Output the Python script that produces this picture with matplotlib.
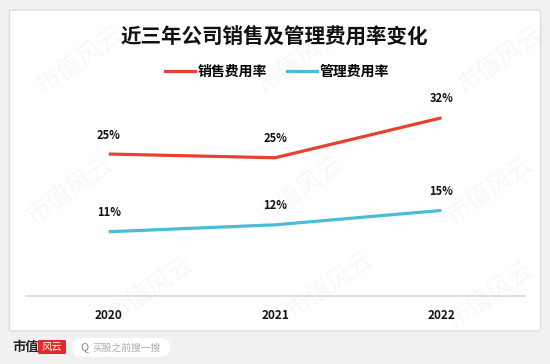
import numpy as np
import matplotlib.pyplot as plt
from matplotlib.patches import FancyBboxPatch
from matplotlib.lines import Line2D

plt.rcParams['font.family'] = ['Noto Sans CJK SC', 'DejaVu Sans']

###---data---###
years = ["2020", "2021", "2022"]
sales_rate = [25.6, 24.9, 32.4]
admin_rate = [11.0, 12.3, 15.0]
sales_labels = ["25%", "25%", "32%"]
admin_labels = ["11%", "12%", "15%"]

red = "#e8412f"
blue = "#4cbbd8"

W, H = 550, 364
fig = plt.figure(figsize=(5.5, 3.64), dpi=100)
fig.patch.set_facecolor("#f1f1f1")

# white panel
panel = FancyBboxPatch((9.5 / W, 1 - 331 / H), 531 / W, 321 / H,
                       boxstyle="round,pad=0,rounding_size=0.004",
                       transform=fig.transFigure, facecolor="white",
                       edgecolor="#dcdcdc", linewidth=1.0, zorder=-2)
fig.patches.append(panel)

# watermarks
for (wx, wy) in [(80, 60), (300, 60), (500, 60), (70, 190), (300, 190), (490, 190),
                 (150, 290), (330, 285), (490, 295)]:
    fig.text(wx / W, 1 - wy / H, "市值风云", fontsize=18, color="#000000", alpha=0.03,
             rotation=35, ha="center", va="center", zorder=-1)

# axes
ax = fig.add_axes([25.6 / W, 1 - 295.6 / H, 499 / W, 191.6 / H])
ax.set_facecolor("none")
x = np.arange(len(years))
ax.plot(x, sales_rate, color=red, lw=2.3, solid_capstyle="butt", zorder=3)
ax.plot(x, admin_rate, color=blue, lw=2.3, solid_capstyle="butt", zorder=3)
for xi, v, t in zip(x, sales_rate, sales_labels):
    ax.annotate(t, (xi, v), xytext=(0, 9), textcoords="offset points",
                ha="center", va="bottom", fontsize=8, fontweight="bold", color="#111111")
for xi, v, t in zip(x, admin_rate, admin_labels):
    ax.annotate(t, (xi, v), xytext=(0, 9), textcoords="offset points",
                ha="center", va="bottom", fontsize=8, fontweight="bold", color="#111111")

ax.set_xlim(-0.5, 2.5)
ax.set_ylim(-1, 35)
ax.set_xticks(x)
ax.set_xticklabels(years, fontsize=8.5, fontweight="bold", color="#111111")
ax.tick_params(axis="x", length=0, pad=10)
ax.set_yticks([])
for s in ["top", "right", "left"]:
    ax.spines[s].set_visible(False)
ax.spines["bottom"].set_color("#d9d9d9")
ax.spines["bottom"].set_linewidth(1.2)

# title
fig.text(274.5 / W, 1 - 36 / H, "近三年公司销售及管理费用率变化", fontsize=14.8,
         fontweight="bold", ha="center", va="center", color="#111111")

# legend
handles = [Line2D([], [], color=red, lw=2.3), Line2D([], [], color=blue, lw=2.3)]
fig.legend(handles, ["销售费用率", "管理费用率"], loc="center",
           bbox_to_anchor=(277 / W, 1 - 72 / H), ncol=2, frameon=False,
           handlelength=2.2, handletextpad=0.2, columnspacing=1.4,
           prop={"weight": "bold", "size": 10})

# bottom brand strip
fig.text(12 / W, 1 - 347 / H, "市值", fontsize=9.5, fontweight="bold",
         ha="left", va="center", color="#222222")
logo = FancyBboxPatch((38 / W, 1 - 354 / H), 28 / W, 14 / H,
                      boxstyle="round,pad=0,rounding_size=0.003",
                      transform=fig.transFigure, facecolor="#e8262b",
                      edgecolor="none")
fig.patches.append(logo)
fig.text(52 / W, 1 - 347 / H, "风云", fontsize=7.5, style="italic",
         ha="center", va="center", color="white")
search = FancyBboxPatch((72 / W, 1 - 357 / H), 98 / W, 19 / H,
                        boxstyle="round,pad=0,rounding_size=0.017",
                        transform=fig.transFigure, facecolor="white",
                        edgecolor="none", mutation_aspect=W / H)
fig.patches.append(search)
fig.text(80 / W, 1 - 347.5 / H, "Q", fontsize=8, ha="left", va="center", color="#888888")
fig.text(92 / W, 1 - 347.5 / H, "买股之前搜一搜", fontsize=7, ha="left", va="center",
         color="#aaaaaa")

fig.savefig("out.png", dpi=100)
